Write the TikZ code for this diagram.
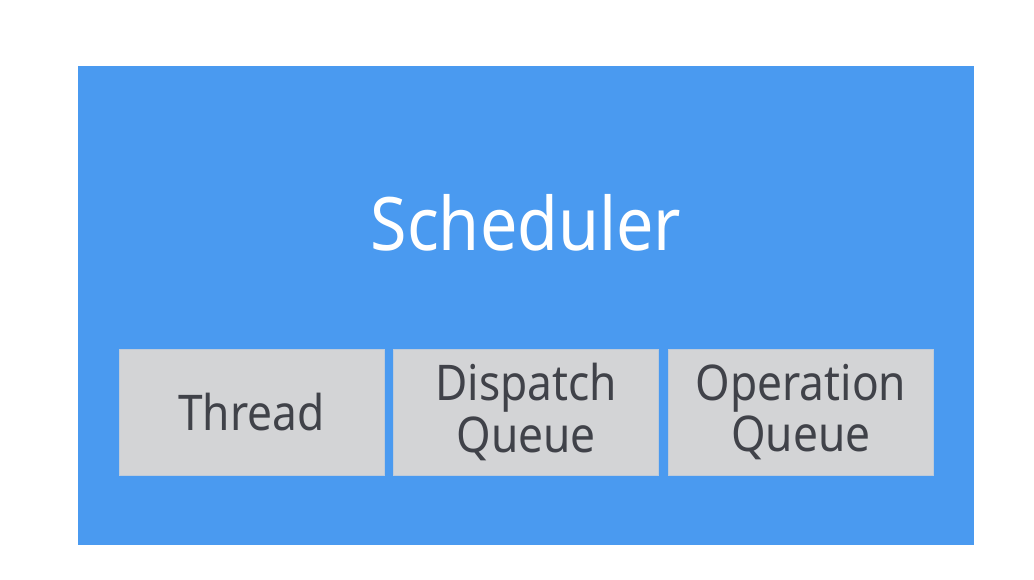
\documentclass[tikz,border=0pt]{standalone}
\usepackage{fontspec}
\setmainfont{Noto Sans}[FakeStretch=0.9]
\usetikzlibrary{positioning}
\definecolor{schedblue}{RGB}{74,154,240}
\definecolor{boxgray}{RGB}{211,212,214}
\definecolor{textgray}{RGB}{64,66,73}

\begin{document}
\begin{tikzpicture}[
  part/.style={fill=boxgray, draw=boxgray!85!schedblue, line width=0.4pt,
    minimum width=5.3cm, minimum height=2.52cm, inner sep=0pt,
    align=center, text=textgray, font=\fontsize{28}{29.5}\selectfont}
]
\useasboundingbox (0, 0) rectangle (20.68, -11.58);

% outer scheduler block
\fill[schedblue] (1.56, -1.32) rectangle (19.48, -10.90);
\node[anchor=base, text=white, font=\fontsize{42}{42}\selectfont] (sched) at (10.52, -5.0) {Scheduler};

% the three parts
\node[part] (thread) at (5.03, -8.24) {Thread};
\node[part, right=0.18cm of thread] (dispatch) {Dispatch\\Queue};
\node[part, right=0.18cm of dispatch] (operation) {Operation\\Queue};
\end{tikzpicture}
\end{document}
